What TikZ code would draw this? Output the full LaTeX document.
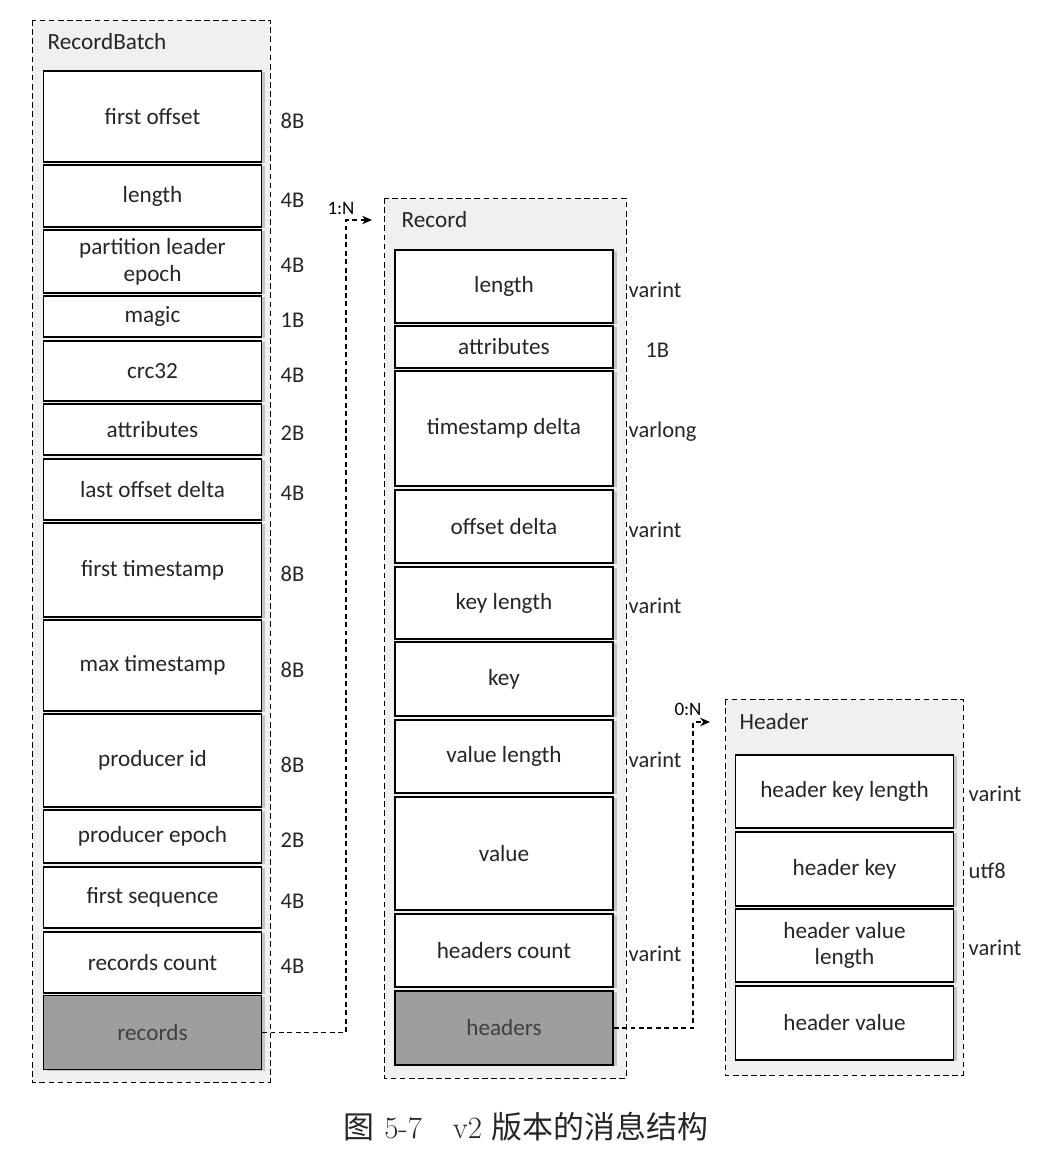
\documentclass[tikz,border=0pt]{standalone}
\usepackage{fontspec}
\setsansfont{Carlito}
\newfontfamily\cjk{Noto Sans CJK SC}
\usetikzlibrary{arrows.meta,shadows}

\tikzset{
  field/.style={draw, line width=0.9pt, fill=white, text=black!85,
    minimum width={218*0.025cm}, inner sep=1pt, align=center,
    font=\sffamily\fontsize{16.5}{19}\selectfont,
    drop shadow={shadow xshift=2.5pt, shadow yshift=-1pt, fill=black!40}},
  sizelbl/.style={anchor=west, inner sep=1pt, text=black!85,
    font=\sffamily\fontsize{16}{19}\selectfont},
  frame/.style={draw, dash pattern=on 4pt off 2.5pt, line width=0.7pt, fill=black!6},
  framelbl/.style={anchor=west, inner sep=1pt, text=black!85,
    font=\sffamily\fontsize{16.5}{19}\selectfont},
  link/.style={draw, dash pattern=on 3.5pt off 2.5pt, line width=0.9pt,
    -{Stealth[length=7pt,width=6pt]}},
  tag/.style={inner sep=1pt, font=\sffamily\fontsize{13.5}{15}\selectfont}
}

\begin{document}
\begin{tikzpicture}[x=0.025cm, y=-0.025cm]
\useasboundingbox (0,0) rectangle (1053,1165);

% containers
\draw[frame] (32,20) rectangle (270,1082);
\node[framelbl] (rbtitle) at (46,42) {RecordBatch};
\draw[frame] (384,198) rectangle (626,1078);
\node[framelbl] (rectitle) at (400,220) {Record};
\draw[frame] (725,699) rectangle (963,1075);
\node[framelbl] (hdtitle) at (738,722) {Header};

% RecordBatch fields
\foreach \top/\bot/\txt/\sz [count=\i] in {
  71/162/first offset/8B,
  165/227/length/4B,
  230/293/{partition leader\\epoch}/4B,
  296/337/magic/1B,
  341/401/crc32/4B,
  404/455/attributes/2B,
  459/520/last offset delta/4B,
  523/617/first timestamp/8B,
  620/711/max timestamp/8B,
  714/807/producer id/8B,
  810/863/producer epoch/2B,
  867/928/first sequence/4B,
  932/993/records count/4B}
{
  \node[field, minimum height={(\bot-\top)*0.025cm}] (rb\i) at (152.5,{(\top+\bot)/2}) {\txt};
  \node[sizelbl] (rbs\i) at (279,{(\top+\bot)/2+4}) {\sz};
}
\node[field, fill=black!38, text=black!75, minimum height={74*0.025cm}] (rb14) at (152.5,1032.5) {records};

% Record fields
\foreach \top/\bot/\txt/\sz [count=\i] in {
  250/323/length/varint,
  326/368/attributes/\hspace{12pt}1B,
  371/486/timestamp delta/varlong,
  490/563/offset delta/varint,
  567/639/key length/varint,
  642/716/key/,
  720/793/value length/varint,
  797/910/value/,
  914/987/headers count/varint}
{
  \node[field, minimum height={(\bot-\top)*0.025cm}] (rec\i) at (504,{(\top+\bot)/2}) {\txt};
  \node[sizelbl] (recs\i) at (627,{(\top+\bot)/2+3}) {\sz};
}
\node[field, fill=black!38, text=black!75, minimum height={74*0.025cm}] (rec10) at (504,1028) {headers};

% Header fields
\foreach \top/\bot/\txt/\sz [count=\i] in {
  755/828/header key length/varint,
  832/906/header key/utf8,
  909/982/{header value\\length}/varint,
  986/1060/header value/}
{
  \node[field, minimum height={(\bot-\top)*0.025cm}] (hd\i) at (844.5,{(\top+\bot)/2}) {\txt};
  \node[sizelbl] (hds\i) at (967,{(\top+\bot)/2+2}) {\sz};
}

% links
\coordinate (rbturn) at (346,220);
\coordinate (recin) at (372,220);
\draw[link] (rb14.east) -| (rbturn) -- (recin);
\node[tag] (rbtag) at (341,208) {1:N};
\coordinate (hdturn) at (693,722);
\coordinate (hdin) at (710,722);
\draw[link] (rec10.east) -| (hdturn) -- (hdin);
\node[tag] (hdtag) at (688,709) {0:N};

% caption
\node[font=\fontsize{22}{26}\selectfont, text=black!85] (cap) at (526,1127)
  {{\cjk 图}\ 5-7\quad v2 {\cjk 版本的消息结构}};
\end{tikzpicture}
\end{document}
